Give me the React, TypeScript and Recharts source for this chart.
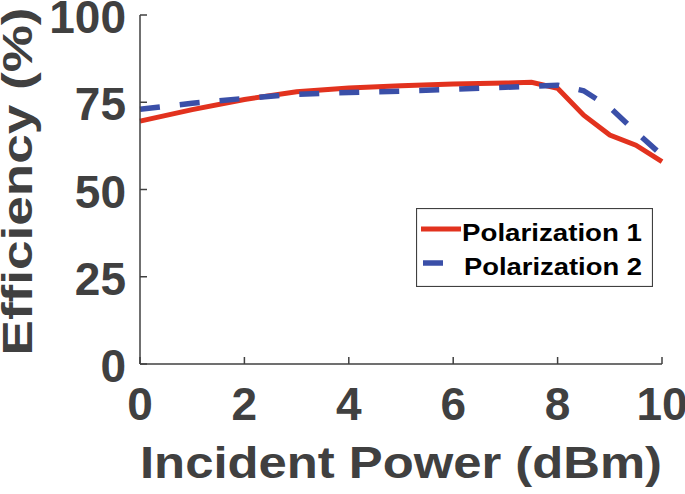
import { LineChart, Line, XAxis, YAxis, Legend } from 'recharts';

// incident power (dBm) and measured efficiency (%)
const powerDbm = [0, 1, 2, 3, 4, 5, 6, 7, 7.5, 8, 8.5, 9, 9.5, 10];
const polarization1 = [69.6, 72.9, 75.8, 78, 79.1, 79.7, 80.2, 80.5, 80.7, 79, 71.3, 65.6, 62.7, 58];
const polarization2 = [73, 74.7, 76.1, 77.3, 77.8, 78.2, 78.7, 79.3, 79.6, 79.9, 78.3, 73.5, 66.5, 59.8];

const xTicks = [0, 2, 4, 6, 8, 10];
const yTicks = [0, 25, 50, 75, 100];

const RED = '#e2321e';
const BLUE = '#3a4fa8';
const INK = '#404040';
const FONT = '"Liberation Sans", Arial, sans-serif';

const series = [
    { key: 'pol1', name: 'Polarization 1', color: RED, dash: undefined as string | undefined, width: 5 },
    { key: 'pol2', name: 'Polarization 2', color: BLUE, dash: '20 20', width: 5.5 },
];

const data = powerDbm.map((p, i) => ({ power: p, pol1: polarization1[i], pol2: polarization2[i] }));

const TICK = 7;

const BottomTick = ({ x, y, payload }: any) => (
    <g>
        <line x1={x} x2={x} y1={y} y2={y - TICK} stroke={INK} strokeWidth={1.5} />
        <text x={x} y={y + 56} textAnchor="middle" fontFamily={FONT} fontWeight={700} fontSize={46} fill={INK}>
            {payload.value}
        </text>
    </g>
);

const TopTick = ({ x, y }: any) => (
    <line x1={x} x2={x} y1={y} y2={y + TICK} stroke={INK} strokeWidth={1.5} />
);

const LeftTick = ({ x, y, payload }: any) => (
    <g>
        <line x1={x} x2={x + TICK} y1={y} y2={y} stroke={INK} strokeWidth={1.5} />
        <text x={x - 14} y={y + 18} textAnchor="end" fontFamily={FONT} fontWeight={700} fontSize={46} fill={INK}>
            {payload.value}
        </text>
    </g>
);

const RightTick = ({ x, y }: any) => (
    <line x1={x} x2={x - TICK} y1={y} y2={y} stroke={INK} strokeWidth={1.5} />
);

const LegendBox = () => (
    <svg width={237} height={79} style={{ display: 'block' }}>
        <rect x={0.5} y={0.5} width={236} height={78} fill="#fff" stroke={INK} strokeWidth={1.2} />
        {series.map((s, i) => (
            <g key={s.key}>
                <line
                    x1={5 + i * 2} x2={45 + i * 2} y1={21 + i * 34} y2={21 + i * 34}
                    stroke={s.color} strokeWidth={s.width} strokeDasharray={s.dash}
                />
                <text
                    x={46 + i * 2} y={33 + i * 34} fontFamily={FONT} fontWeight={700} fontSize={24}
                    fill="#000" textLength={180 - i * 2} lengthAdjust="spacingAndGlyphs"
                >
                    {s.name}
                </text>
            </g>
        ))}
    </svg>
);

export default function App() {
    return (
        <div style={{ position: 'absolute', left: 0, top: 0, background: '#fff' }}>
            <LineChart width={685} height={494} data={data} margin={{ top: 15, right: 23, left: 0, bottom: 0 }}>
                <XAxis
                    dataKey="power" type="number" domain={[0, 10]} ticks={xTicks}
                    height={130} tickSize={0} tickMargin={0} tickLine={false}
                    axisLine={{ stroke: INK, strokeWidth: 1.5 }} tick={BottomTick}
                    label={{
                        content: ({ viewBox }: any) => (
                            <text
                                x={viewBox.x + viewBox.width / 2} y={viewBox.y + 114} textAnchor="middle"
                                fontFamily={FONT} fontWeight={700} fontSize={45} fill={INK}
                                textLength={522} lengthAdjust="spacingAndGlyphs"
                            >
                                Incident Power (dBm)
                            </text>
                        ),
                    }}
                />
                <XAxis
                    xAxisId="top" orientation="top" dataKey="power" type="number" domain={[0, 10]}
                    ticks={xTicks} height={0} tickSize={0} tickMargin={0} tickLine={false}
                    axisLine={{ stroke: INK, strokeWidth: 1.5 }} tick={TopTick}
                />
                <YAxis
                    type="number" domain={[0, 100]} ticks={yTicks} width={140}
                    tickSize={0} tickMargin={0} tickLine={false}
                    axisLine={{ stroke: INK, strokeWidth: 1.5 }} tick={LeftTick}
                    label={{
                        content: ({ viewBox }: any) => {
                            const cx = 32;
                            const cy = viewBox.y + viewBox.height / 2 - 8;
                            return (
                                <text
                                    x={cx} y={cy} textAnchor="middle" transform={`rotate(-90, ${cx}, ${cy})`}
                                    fontFamily={FONT} fontWeight={700} fontSize={42} fill={INK}
                                    textLength={348} lengthAdjust="spacingAndGlyphs"
                                >
                                    Efficiency (%)
                                </text>
                            );
                        },
                    }}
                />
                <YAxis
                    yAxisId="right" orientation="right" type="number" domain={[0, 100]} ticks={yTicks}
                    width={0} tickSize={0} tickMargin={0} tickLine={false}
                    axisLine={{ stroke: INK, strokeWidth: 1.5 }} tick={RightTick}
                />
                {series.map(s => (
                    <Line
                        key={s.key} dataKey={s.key} name={s.name} stroke={s.color} strokeWidth={s.width}
                        strokeDasharray={s.dash} dot={false} activeDot={false} isAnimationActive={false}
                        type="linear"
                    />
                ))}
                <Legend
                    layout="horizontal" verticalAlign="middle" align="center"
                    wrapperStyle={{ left: 416, top: 208, width: 237, height: 79 }}
                    content={() => <LegendBox />}
                />
            </LineChart>
        </div>
    );
}
